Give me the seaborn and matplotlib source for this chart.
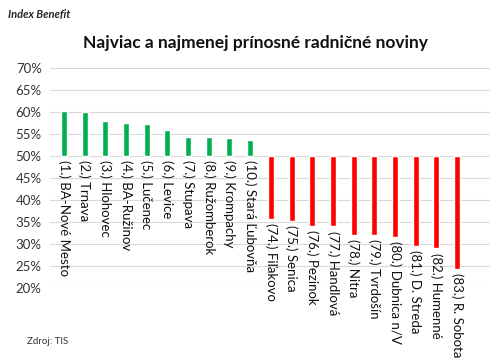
import matplotlib
matplotlib.use("Agg")
import matplotlib.pyplot as plt
import seaborn as sns
import pandas as pd

# data
labels = ["(1.) BA-Nové Mesto", "(2.) Trnava", "(3.) Hlohovec", "(4.) BA-Ružinov",
          "(5.) Lučenec", "(6.) Levice", "(7.) Stupava", "(8.) Ružomberok",
          "(9.) Krompachy", "(10.) Stará Ľubovňa",
          "(74.) Fiľakovo", "(75.) Senica", "(76.) Pezinok", "(77.) Handlová",
          "(78.) Nitra", "(79.) Tvrdošín", "(80.) Dubnica n/V", "(81.) D. Streda",
          "(82.) Humenné", "(83.) R. Sobota"]
values = [60.3, 59.9, 58.0, 57.5, 57.2, 55.9, 54.4, 54.4, 54.0, 53.7,
          35.7, 35.3, 34.2, 34.0, 32.1, 32.0, 31.6, 29.5, 29.0, 24.4]
group = ["top"] * 10 + ["bottom"] * 10
yticks = [20, 25, 30, 35, 40, 45, 50, 55, 60, 65, 70]
base = 50

df = pd.DataFrame({"mesto": labels, "index": values, "skupina": group})
df["diff"] = df["index"] - base

sns.set_style("white")
plt.rcParams["font.family"] = ["Lato", "DejaVu Sans"]

fig = plt.figure(figsize=(5, 3.61), dpi=100)
ax = fig.add_axes([0.1, 0.202, 0.88, 0.61])

sns.barplot(data=df, x="mesto", y="diff", hue="skupina",
            palette={"top": "#00B050", "bottom": "#FF0000"}, saturation=1,
            width=0.29, bottom=base, dodge=False, legend=False, ax=ax)

# labels under the bars (or under the baseline for the green ones)
for i, (lab, v) in enumerate(zip(labels, values)):
    y = min(v, base)
    ax.annotate(lab, (i, y), xytext=(0, -3), textcoords="offset points",
                rotation=270, ha="center", va="top", fontsize=9.5, color="#111111")

ax.set_ylim(20, 70)
ax.set_xlim(-0.68, 20.6)
ax.set_yticks(yticks)
ax.set_yticklabels([f"{t}%" for t in yticks], fontsize=9.5, color="#333333")
ax.set_xticks([])
ax.set_xlabel("")
ax.set_ylabel("")
ax.yaxis.grid(True, color="#d9d9d9", linewidth=0.8)
ax.set_axisbelow(True)
ax.tick_params(axis="y", length=0, pad=6)
for s in ax.spines.values():
    s.set_visible(False)

fig.text(0.51, 0.88, "Najviac a najmenej prínosné radničné noviny",
         ha="center", va="center", fontsize=12.5, fontweight="bold", color="#111111")
fig.text(0.016, 0.975, "Index Benefit", ha="left", va="top",
         fontsize=8, fontweight="bold", fontstyle="italic")
fig.text(0.054, 0.055, "Zdroj: TIS", ha="left", va="center", fontsize=7, color="#333333")

fig.savefig("out.png", dpi=100)
